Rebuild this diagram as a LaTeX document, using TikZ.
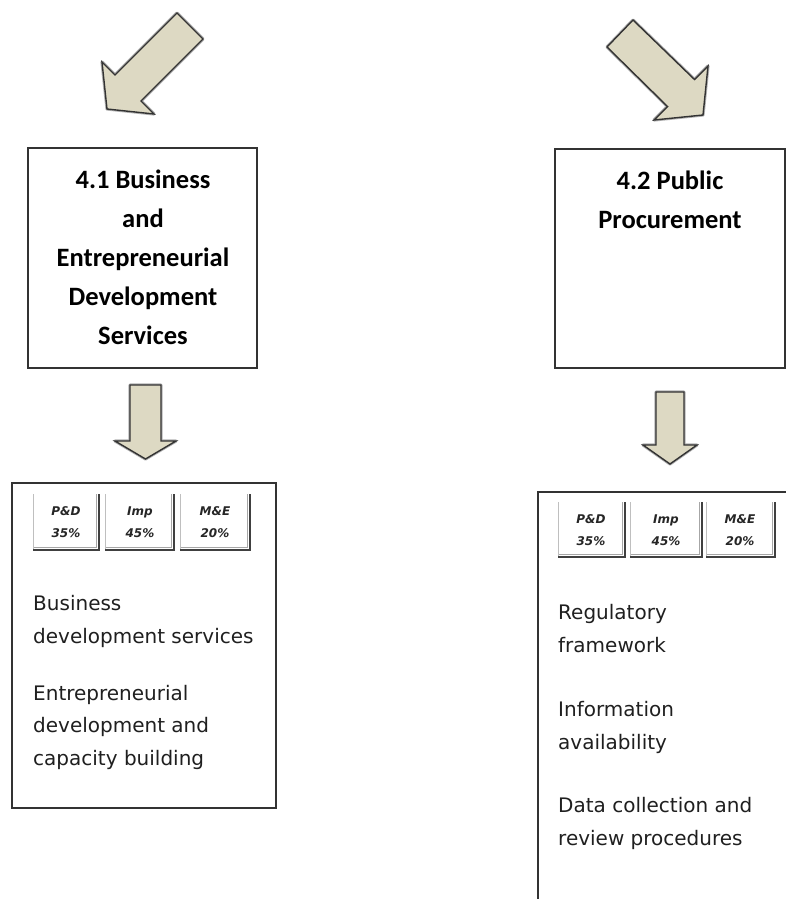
\documentclass[tikz,border=0pt]{standalone}
\usepackage{fontspec}
\newfontfamily\titlefont{Carlito}[BoldFont={Carlito Bold}]
\newfontfamily\bodyfont{DejaVu Sans}
\definecolor{arrowfill}{HTML}{DDD9C3}
\definecolor{edge}{HTML}{333333}
\begin{document}
\begin{tikzpicture}[x=1pt,y=-1pt,
  box/.style={draw=edge,line width=1.6pt},
  bigarrow/.style={fill=arrowfill,draw=edge,line width=1.4pt,line join=miter},
  arrowshadow/.style={draw=black!30,line width=3.2pt,line join=round},
  titletext/.style={font=\titlefont\bfseries\fontsize{26.5}{39}\selectfont,align=center,anchor=base,inner sep=0pt},
  bodytext/.style={font=\bodyfont\fontsize{20}{32.5}\selectfont,text=black!88,align=left,anchor=base west,inner sep=0pt},
  tabtext/.style={font=\bodyfont\bfseries\itshape\fontsize{12}{22}\selectfont,text=black!85,align=center,anchor=base,inner sep=0pt},
  tabdark/.style={draw=black!75,line width=1.4pt},
  tabmid/.style={draw=black!35,line width=1pt},
  tablight/.style={draw=black!25,line width=1pt}]
\useasboundingbox (0,0) rectangle (786,899);
\clip (0,0) rectangle (786,899);

% ---------- top diagonal arrows ----------
\path[arrowshadow] (177,13) -- (115,75) -- (102,62) -- (107,109) -- (154,114) -- (141,101) -- (203,39) -- cycle;
\path[bigarrow] (177,13) coordinate (tl) -- (115,75) -- (102,62) -- (107,109) -- (154,114) -- (141,101) -- (203,39) -- cycle;
\path[arrowshadow] (633,20) -- (694.5,79.5) -- (708,66) -- (703,115) -- (654,120) -- (667.5,106.5) -- (607,47) -- cycle;
\path[bigarrow] (633,20) coordinate (tr) -- (694.5,79.5) -- (708,66) -- (703,115) -- (654,120) -- (667.5,106.5) -- (607,47) -- cycle;

% ---------- title boxes ----------
\draw[box] (28,148) rectangle (257,368);
\node[titletext] (t41) at (143,344) {4.1 Business\\and\\Entrepreneurial\\Development\\Services};
\draw[box] (555,149) rectangle (785,368);
\node[titletext] (t42) at (670,228) {4.2 Public\\Procurement};

% ---------- down arrows ----------
\path[arrowshadow] (130,385) -- (161,385) -- (161,441) -- (176,441) -- (145.5,459) -- (115,441) -- (130,441) -- cycle;
\path[bigarrow] (130,385) -- (161,385) -- (161,441) -- (176,441) -- (145.5,459) -- (115,441) -- (130,441) -- cycle;
\path[arrowshadow] (656,392) -- (684,392) -- (684,445) -- (697,445) -- (670,464) -- (643,445) -- (656,445) -- cycle;
\path[bigarrow] (656,392) -- (684,392) -- (684,445) -- (697,445) -- (670,464) -- (643,445) -- (656,445) -- cycle;

% ---------- left detail box ----------
\draw[box] (12,483) rectangle (276,808);
\foreach \l/\r in {33/99,105/174,180/250}{
  \draw[tablight] (\l,494) -- (\l,549);
  \draw[tabmid] (\r-2.5,494) -- (\r-2.5,547.5) -- (\l+1,547.5);
  \draw[tabdark] (\r,494) -- (\r,550) -- (\l,550);
}
\node[tabtext] (l1) at (66,537) {P\&D\\35\%};
\node[tabtext] (l2) at (140,537) {Imp\\45\%};
\node[tabtext] (l3) at (215,537) {M\&E\\20\%};
\node[bodytext] (lb1) at (33,643) {Business\\development services};
\node[bodytext] (lb2) at (33,765) {Entrepreneurial\\development and\\capacity building};

% ---------- right detail box ----------
\draw[box] (800,492) -- (538,492) -- (538,910);
\foreach \l/\r in {558/625,630/702,706/775}{
  \draw[tablight] (\l,502) -- (\l,556);
  \draw[tabmid] (\r-2.5,502) -- (\r-2.5,554.5) -- (\l+1,554.5);
  \draw[tabdark] (\r,502) -- (\r,557) -- (\l,557);
}
\node[tabtext] (r1) at (591,545) {P\&D\\35\%};
\node[tabtext] (r2) at (666,545) {Imp\\45\%};
\node[tabtext] (r3) at (740,545) {M\&E\\20\%};
\node[bodytext] (rb1) at (558,652) {Regulatory\\framework};
\node[bodytext] (rb2) at (558,749) {Information\\availability};
\node[bodytext] (rb3) at (558,845) {Data collection and\\review procedures};
\end{tikzpicture}
\end{document}
